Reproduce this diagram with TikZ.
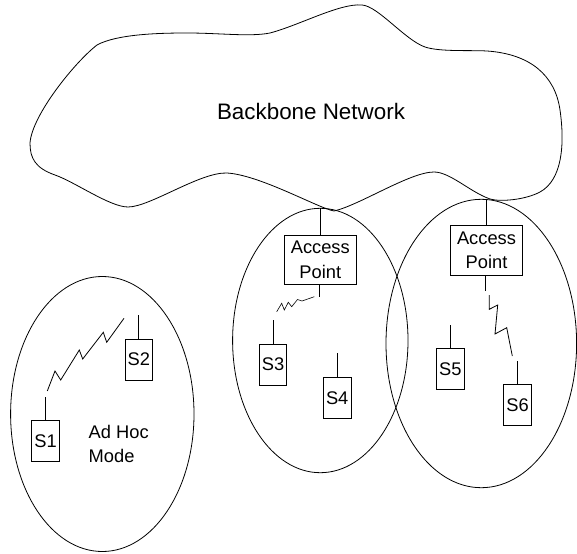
\documentclass[tikz,border=0pt]{standalone}
\usepackage{fontspec}
\setmainfont{Liberation Sans}
\usetikzlibrary{shapes.geometric}
\begin{document}
\begin{tikzpicture}[x=1pt,y=-1pt, line width=0.8pt,
  sta/.style={draw, minimum width=27.5pt, minimum height=41pt, inner sep=0pt, font=\fontsize{18.3}{24.3}\selectfont},
  apbox/.style={draw, minimum width=72pt, minimum height=49.3pt, inner sep=0pt, align=center, font=\fontsize{18.3}{24.3}\selectfont},
  cell/.style={draw, ellipse, inner sep=0pt},
  lbl/.style={font=\fontsize{18.3}{23.4}\selectfont, inner sep=0pt},
  radio/.style={line width=0.8pt, line join=miter}]
\useasboundingbox (0,0) rectangle (577,553);

% backbone cloud
\draw (30,143) .. controls (32,115) and (75,62) .. (97,45)
  .. controls (117,34) and (160,33) .. (187,33)
  .. controls (220,33) and (250,37) .. (270,33)
  .. controls (300,25) and (340,3) .. (362,5)
  .. controls (378,6) and (405,40) .. (425,47)
  .. controls (440,52) and (470,50) .. (487,51)
  .. controls (530,54) and (555,75) .. (560,110)
  .. controls (565,145) and (562,180) .. (540,192)
  .. controls (525,200) and (500,202) .. (490,199)
  .. controls (470,192) and (450,172) .. (434,172)
  .. controls (410,172) and (360,205) .. (334,211)
  .. controls (318,208) and (260,175) .. (227,173)
  .. controls (200,172) and (150,207) .. (128,207)
  .. controls (110,207) and (75,182) .. (55,175)
  .. controls (35,168) and (30,158) .. (30,143) -- cycle;
\node[font=\fontsize{22.4}{27}\selectfont, anchor=base, inner sep=0pt] (bbtext) at (311,119.3) {Backbone Network};
\coordinate (bb1) at (320.3,208.3);
\coordinate (bb2) at (486.5,198.5);

% cells
\node[cell, minimum width=183.4pt, minimum height=275pt] (adhoccell) at (102.3,414) {};
\node[cell, minimum width=175.4pt, minimum height=264.4pt] (bss1) at (320.3,340.5) {};
\node[cell, minimum width=190.6pt, minimum height=288.4pt] (bss2) at (481.3,343.5) {};

% access points
\node[apbox] (ap1) at (320.3,259.7) {Access\\Point};
\node[apbox] (ap2) at (486.5,250.3) {Access\\Point};
\draw (ap1.north) -- (bb1);
\draw (ap2.north) -- (bb2);
\coordinate (ap1a) at (319.3,297);
\coordinate (ap2a) at (485,291);
\draw (ap1a |- ap1.south) -- (ap1a);
\draw (ap2a |- ap2.south) -- (ap2a);

% stations
\node[sta] (s1) at (45.5,441.3) {S1};
\node[sta] (s2) at (138.8,359.5) {S2};
\node[sta] (s3) at (273,364.5) {S3};
\node[sta] (s4) at (337.2,397.8) {S4};
\node[sta] (s5) at (450.3,369.3) {S5};
\node[sta] (s6) at (517.5,404.8) {S6};
\coordinate (s1a) at (45.5,396.7);
\coordinate (s2a) at (138.8,315);
\coordinate (s3a) at (273,320);
\coordinate (s4a) at (337.2,353.3);
\coordinate (s5a) at (450.3,325);
\coordinate (s6a) at (517.5,360.7);
\foreach \s in {s1,s2,s3,s4,s5,s6} \draw (\s.north) -- (\s a);

\node[lbl, anchor=north west, align=left] (adhoc) at (88.3,425.2) {Ad Hoc\\Mode};

% radio links
\coordinate (z1a) at (47.3,391);
\coordinate (z1b) at (124,318.3);
\draw[radio] (z1a) -- (55,371) -- (60.7,380) -- (79.3,350) -- (82.7,359) -- (103.3,332.3) -- (106.7,342.3) -- (z1b);
\coordinate (z2a) at (276.7,311.7);
\coordinate (z2b) at (314.3,296.7);
\draw[radio, line width=0.6pt] (z2a) -- (281.7,303.3) -- (284.3,310) -- (288.3,302.3) -- (291.7,306.7) -- (297.5,299.5) -- (302,301) -- (z2b);
\coordinate (z3a) at (489.3,295);
\coordinate (z3b) at (512.3,356);
\draw[radio] (z3a) -- (489.3,309.3) -- (497.7,305) -- (495,334) -- (506.7,327.7) -- (z3b);
\end{tikzpicture}
\end{document}
